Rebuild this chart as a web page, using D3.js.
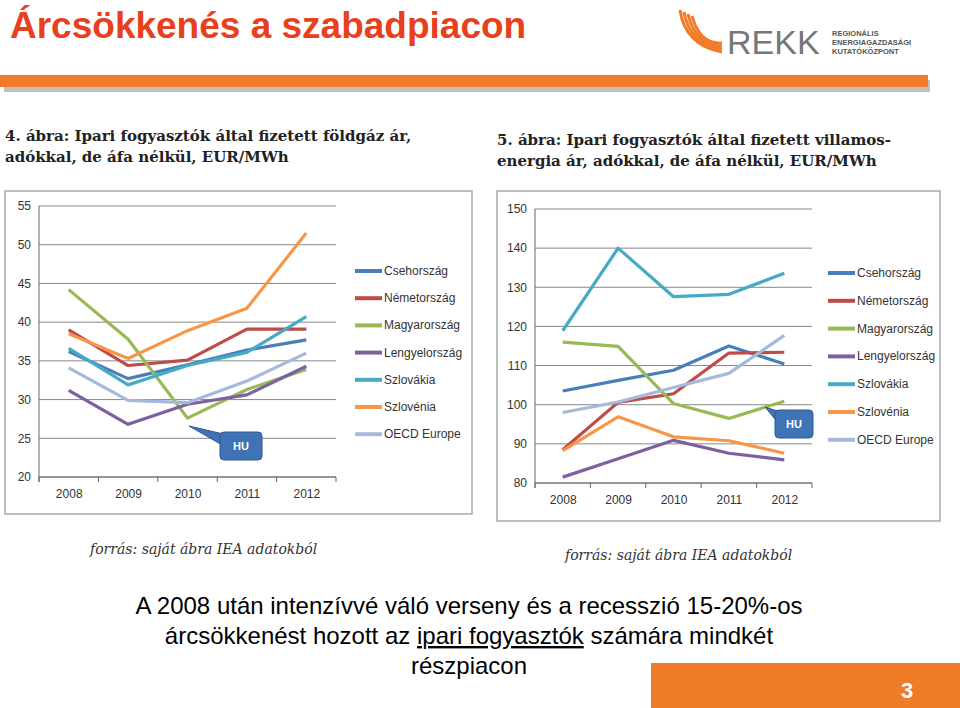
<!DOCTYPE html><html><head><meta charset="utf-8"><script src="https://cdn.jsdelivr.net/npm/d3@7"></script>
<style>body{margin:0;background:#fff}svg{display:block}</style></head><body><svg id="s" width="960" height="708"></svg>
<script>
const years=["2008","2009","2010","2011","2012"];
const countries=["Csehország","Németország","Magyarország","Lengyelország","Szlovákia","Szlovénia","OECD Europe"];
const colors=["#4a7ebb","#be4b48","#98b954","#7d60a0","#46aac5","#f79646","#a5b9dd"];
const gasValues=[
[36.2,32.7,34.5,36.4,37.7],
[39.0,34.4,35.1,39.1,39.1],
[44.2,37.8,27.6,31.3,33.9],
[31.2,26.8,29.4,30.6,34.3],
[36.6,31.9,34.4,36.1,40.7],
[38.5,35.3,38.9,41.8,51.5],
[34.1,29.9,29.6,32.4,36.0]];
const elecValues=[
[103.5,106.2,108.8,115.0,110.4],
[88.5,100.6,102.8,113.2,113.4],
[116.0,114.9,100.3,96.5,100.9],
[81.5,86.2,90.9,87.6,85.9],
[118.9,140.0,127.6,128.2,133.6],
[88.3,96.9,91.8,90.8,87.6],
[98.0,100.7,104.4,108.0,117.7]];
const gasTicks=[20,25,30,35,40,45,50,55];
const elecTicks=[80,90,100,110,120,130,140,150];

const svg=d3.select("#s");
svg.append("text").attr("x",10).attr("y",38).attr("font-family","Liberation Sans,Arial").attr("font-weight","bold").attr("font-size",37).attr("fill","#e8401c").text("Árcsökkenés a szabadpiacon");
svg.append("rect").attr("x",4).attr("y",80).attr("width",926).attr("height",12).attr("fill","#c0c0c0");
svg.append("rect").attr("x",0).attr("y",75).attr("width",928).attr("height",12).attr("fill","#f07c2a");
const lg=svg.append("g");
[0,1,2,3].forEach(i=>lg.append("path").attr("d",`M${680+i*4},${10+i*2} Q${685+i*5},${45} ${722},${52-i*3}`).attr("fill","none").attr("stroke","#f07c2a").attr("stroke-width",3));
lg.append("text").attr("x",727).attr("y",54).attr("font-family","Liberation Sans,Arial").attr("font-size",34).attr("fill","#777").text("REKK");
["REGIONÁLIS","ENERGIAGAZDASÁGI","KUTATÓKÖZPONT"].forEach((t,i)=>lg.append("text").attr("x",832).attr("y",36+i*9).attr("font-family","Liberation Sans,Arial").attr("font-size",7.5).attr("font-weight","bold").attr("fill","#555").text(t));

function titleText(x,y,lines){lines.forEach((l,i)=>svg.append("text").attr("x",x).attr("y",y+i*21).attr("font-family","DejaVu Serif,serif").attr("font-weight","bold").attr("font-size",15).attr("fill","#222").text(l));}
titleText(5,141,["4. ábra: Ipari fogyasztók által fizetett földgáz ár,","adókkal, de áfa nélkül, EUR/MWh"]);
titleText(497,145,["5. ábra: Ipari fogyasztók által fizetett villamos-","energia ár, adókkal, de áfa nélkül, EUR/MWh"]);
function src(x,y){svg.append("text").attr("x",x).attr("y",y).attr("font-family","DejaVu Serif,serif").attr("font-style","italic").attr("font-size",14).attr("fill","#333").text("forrás: saját ábra IEA adatokból");}
src(90,554);src(565,560);

function chart(o){
  const g=svg.append("g");
  g.append("rect").attr("x",o.fx).attr("y",o.fy).attr("width",o.fw).attr("height",o.fh).attr("fill","#fff").attr("stroke","#aaa").attr("stroke-width",1.5);
  const x=d3.scalePoint().domain(years).range([o.x0,o.x1]).padding(0.5);
  const y=d3.scaleLinear().domain(o.dom).range([o.yb,o.yt]);
  o.ticks.forEach(t=>g.append("line").attr("x1",o.x0).attr("x2",o.x1).attr("y1",y(t)).attr("y2",y(t)).attr("stroke","#888").attr("stroke-width",1));
  const ya=g.append("g").attr("transform",`translate(${o.x0},0)`).call(d3.axisLeft(y).tickValues(o.ticks).tickSize(5));
  const xa=g.append("g").attr("transform",`translate(0,${o.yb})`).call(d3.axisBottom(x).tickSize(0).tickPadding(12));
  const st=x.step();
  years.concat([""]).forEach((d,i)=>g.append("line").attr("x1",o.x0+i*st).attr("x2",o.x0+i*st).attr("y1",o.yb).attr("y2",o.yb+5).attr("stroke","#666"));
  [ya,xa].forEach(a=>{a.selectAll("path,line").attr("stroke","#666");a.select(".domain").remove();a.selectAll("text").attr("font-family","Liberation Sans,Arial").attr("font-size",12).attr("fill","#333");});
  ya.selectAll("line").remove();
  g.append("line").attr("x1",o.x0).attr("x2",o.x0).attr("y1",o.yt).attr("y2",o.yb+5).attr("stroke","#666");
  g.append("line").attr("x1",o.x0).attr("x2",o.x1).attr("y1",o.yb).attr("y2",o.yb).attr("stroke","#666");
  const line=d3.line().x((d,i)=>x(years[i])).y(d=>y(d));
  o.data.forEach((s,k)=>g.append("path").attr("d",line(s)).attr("fill","none").attr("stroke",colors[k]).attr("stroke-width",3.2).attr("stroke-linejoin","round"));
  countries.forEach((c,k)=>{const yy=o.ly+k*o.ls;
    g.append("line").attr("x1",o.lx).attr("x2",o.lx+27).attr("y1",yy).attr("y2",yy).attr("stroke",colors[k]).attr("stroke-width",4);
    g.append("text").attr("x",o.lx+29).attr("y",yy+4).attr("font-family","Liberation Sans Narrow,Liberation Sans,Arial").attr("font-size",12).attr("fill","#333").text(c);});
  const h=o.hu;
  g.append("path").attr("d",`M${h.tx},${h.ty} L${h.x+12},${h.y+4} L${h.x+4},${h.y+14} Z`).attr("fill","#3f73b5").attr("stroke","#2c5a94");
  g.append("rect").attr("x",h.x).attr("y",h.y).attr("width",h.w).attr("height",h.h).attr("rx",4).attr("fill","#3f73b5").attr("stroke","#2c5a94");
  g.append("text").attr("x",h.x+h.w/2).attr("y",h.y+h.h/2+4).attr("text-anchor","middle").attr("font-family","Liberation Sans,Arial").attr("font-weight","bold").attr("font-size",11).attr("fill","#fff").text("HU");
}
chart({fx:5,fy:191,fw:467,fh:323,x0:39,x1:336,yt:206,yb:477,dom:[20,55],ticks:gasTicks,data:gasValues,lx:355,ly:271,ls:27.2,
  hu:{tx:189,ty:426,x:220,y:432,w:42,h:28}});
chart({fx:497,fy:191,fw:443,fh:330,x0:535,x1:812,yt:209,yb:483,dom:[80,150],ticks:elecTicks,data:elecValues,lx:828,ly:273,ls:27.8,
  hu:{tx:765,ty:407,x:775,y:410,w:38,h:28}});

const bt=svg.append("text").attr("font-family","Liberation Sans,Arial").attr("font-size",24).attr("fill","#000").attr("text-anchor","middle");
bt.append("tspan").attr("x",469).attr("y",614).text("A 2008 után intenzívvé váló verseny és a recesszió 15-20%-os");
const l2=bt.append("tspan").attr("x",469).attr("y",644);
l2.append("tspan").text("árcsökkenést hozott az ");
l2.append("tspan").attr("text-decoration","underline").text("ipari fogyasztók");
l2.append("tspan").text(" számára mindkét");
bt.append("tspan").attr("x",469).attr("y",674).text("részpiacon");
svg.append("rect").attr("x",651).attr("y",663).attr("width",309).attr("height",45).attr("fill","#f07c2a");
svg.append("text").attr("x",907).attr("y",698).attr("text-anchor","middle").attr("font-family","Liberation Sans,Arial").attr("font-weight","bold").attr("font-size",22).attr("fill","#fff").text("3");
</script></body></html>
